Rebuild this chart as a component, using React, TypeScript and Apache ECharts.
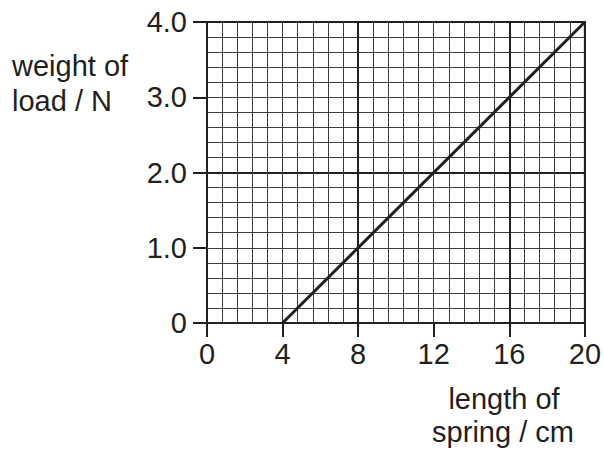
import React, { useEffect, useRef } from "react";
import * as echarts from "echarts";

// Data
const springLength = [4, 20]; // cm
const loadWeight = [0, 4.0]; // N

const xMin = 0;
const xMax = 20;
const xInterval = 4;
const xMajorInterval = 8;
const yMin = 0;
const yMax = 4;
const yInterval = 1;
const yMajorInterval = 2;

const xTickLabels = ["0", "4", "8", "12", "16", "20"];
const yTickLabels = ["0", "1.0", "2.0", "3.0", "4.0"];

const yTitleLines = ["weight of", "load / N"];
const xTitleLines = ["length of", "spring / cm"];

const INK = "#231f20";
const FONT = "'Liberation Sans', Arial, Helvetica, sans-serif";

export default function App() {
  const ref = useRef<HTMLDivElement>(null);

  useEffect(() => {
    if (!ref.current) return;
    const chart = echarts.init(ref.current, null, { renderer: "svg" });
    const minorLine = { color: "#3c3c3c", width: 1 };
    const majorLine = { color: INK, width: 2 };

    chart.setOption({
      animation: false,
      backgroundColor: "#ffffff",
      textStyle: { fontFamily: FONT },
      grid: {
        left: 207,
        top: 22,
        right: 18,
        bottom: 131,
        show: true,
        borderColor: INK,
        borderWidth: 2,
        backgroundColor: "transparent",
      },
      xAxis: [
        {
          type: "value",
          min: xMin,
          max: xMax,
          interval: xInterval,
          position: "bottom",
          axisLine: { show: true, onZero: false, lineStyle: { color: INK, width: 2 } },
          axisTick: { show: true, inside: false, length: 14, lineStyle: { color: INK, width: 2 } },
          axisLabel: {
            show: true,
            margin: 16,
            color: INK,
            fontSize: 29,
            fontFamily: FONT,
            formatter: (_v: number, i: number) => xTickLabels[i],
          },
          minorTick: { show: false, splitNumber: 5 },
          splitLine: { show: true, lineStyle: minorLine },
          minorSplitLine: { show: true, lineStyle: minorLine },
        },
        {
          type: "value",
          min: xMin,
          max: xMax,
          interval: xMajorInterval,
          position: "bottom",
          axisLine: { show: false },
          axisTick: { show: false },
          axisLabel: { show: false },
          splitLine: { show: true, lineStyle: majorLine },
        },
      ],
      yAxis: [
        {
          type: "value",
          min: yMin,
          max: yMax,
          interval: yInterval,
          position: "left",
          axisLine: { show: true, onZero: false, lineStyle: { color: INK, width: 2 } },
          axisTick: { show: true, inside: false, length: 14, lineStyle: { color: INK, width: 2 } },
          axisLabel: {
            show: true,
            margin: 20,
            color: INK,
            fontSize: 29,
            fontFamily: FONT,
            formatter: (_v: number, i: number) => yTickLabels[i],
          },
          minorTick: { show: false, splitNumber: 5 },
          splitLine: { show: true, lineStyle: minorLine },
          minorSplitLine: { show: true, lineStyle: minorLine },
        },
        {
          type: "value",
          min: yMin,
          max: yMax,
          interval: yMajorInterval,
          position: "left",
          axisLine: { show: false },
          axisTick: { show: false },
          axisLabel: { show: false },
          splitLine: { show: true, lineStyle: majorLine },
        },
      ],
      series: [
        {
          type: "line",
          xAxisIndex: 0,
          yAxisIndex: 0,
          data: springLength.map((x, i) => [x, loadWeight[i]]),
          showSymbol: false,
          symbol: "none",
          lineStyle: { color: INK, width: 3 },
          z: 10,
        },
      ],
      graphic: [
        {
          type: "text",
          left: 12,
          top: 51,
          style: { text: yTitleLines[0], fill: INK, font: `29px ${FONT}` },
        },
        {
          type: "text",
          left: 12,
          top: 86,
          style: { text: yTitleLines[1], fill: INK, font: `29px ${FONT}` },
        },
        {
          type: "text",
          x: 504,
          y: 384,
          style: { text: xTitleLines[0], fill: INK, font: `29px ${FONT}`, align: "center" },
        },
        {
          type: "text",
          x: 503,
          y: 417,
          style: { text: xTitleLines[1], fill: INK, font: `29px ${FONT}`, align: "center" },
        },
      ],
    });
    return () => chart.dispose();
  }, []);

  return (
    <div
      ref={ref}
      style={{ position: "fixed", left: 0, top: 0, width: 604, height: 454, background: "#fff" }}
    />
  );
}
